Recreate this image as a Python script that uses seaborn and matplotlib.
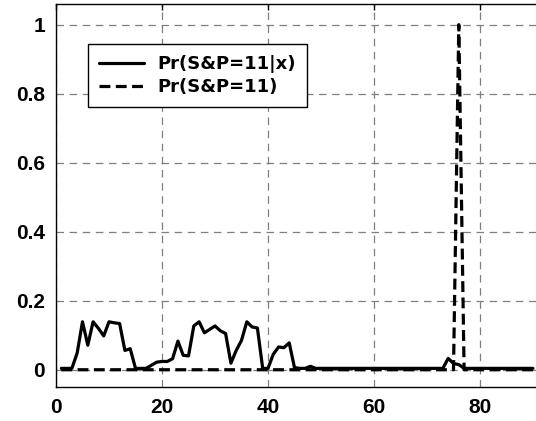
import matplotlib
matplotlib.use("Agg")
import matplotlib.pyplot as plt
from matplotlib.lines import Line2D
import seaborn as sns
import pandas as pd

x_vals = list(range(1, 91))

cond_vals = [0.004, 0.004, 0.004, 0.049, 0.139, 0.071, 0.139, 0.12, 0.098, 0.139,
             0.136, 0.134, 0.056, 0.061, 0.004, 0.004, 0.004, 0.013, 0.022, 0.024,
             0.024, 0.032, 0.083, 0.042, 0.040, 0.127, 0.139, 0.107, 0.117, 0.127,
             0.113, 0.105, 0.019, 0.056, 0.085, 0.139, 0.124, 0.121, 0.004, 0.004,
             0.045, 0.066, 0.064, 0.078, 0.006, 0.004, 0.004, 0.010, 0.004, 0.004,
             0.004, 0.004, 0.004, 0.004, 0.004, 0.004, 0.004, 0.004, 0.004, 0.004,
             0.004, 0.004, 0.004, 0.004, 0.004, 0.004, 0.004, 0.004, 0.004, 0.004,
             0.004, 0.004, 0.004, 0.033, 0.018, 0.015, 0.004, 0.004, 0.004, 0.004,
             0.004, 0.004, 0.004, 0.004, 0.004, 0.004, 0.004, 0.004, 0.004, 0.004]

prior_vals = [0.0] * 75 + [1.0] + [0.0] * 14

labels = ["Pr(S&P=11|x)", "Pr(S&P=11)"]
x_ticks = [0, 20, 40, 60, 80]
y_ticks = [0, 0.2, 0.4, 0.6, 0.8, 1]
y_tick_labels = ["0", "0.2", "0.4", "0.6", "0.8", "1"]

df = pd.DataFrame({
    "x": x_vals * 2,
    "y": cond_vals + prior_vals,
    "series": [labels[0]] * len(x_vals) + [labels[1]] * len(x_vals),
})

sns.set_style("white")
plt.rcParams["font.family"] = ["Liberation Sans", "DejaVu Sans"]
plt.rcParams["text.color"] = "black"
plt.rcParams["xtick.color"] = "black"
plt.rcParams["ytick.color"] = "black"

DASH = (3.4, 1.7)
LW = 2.3

fig = plt.figure(figsize=(5.36, 4.21), dpi=100)
ax = fig.add_axes([56 / 536, 34 / 421, 530 / 536, 383 / 421])

sns.lineplot(data=df, x="x", y="y", style="series", color="black",
             dashes={labels[0]: "", labels[1]: DASH}, linewidth=LW,
             ax=ax, legend=False)

ax.set_xlim(0, 100)
ax.set_ylim(-0.05, 1.06)
ax.set_xticks(x_ticks)
ax.set_xticklabels([str(t) for t in x_ticks], fontsize=15, fontweight="bold",
                   color="black")
ax.set_yticks(y_ticks)
ax.set_yticklabels(y_tick_labels, fontsize=15, fontweight="bold", color="black")
ax.set_xlabel("")
ax.set_ylabel("")
ax.grid(True, color="#7f7f7f", linestyle=(0, (6, 4.5)), linewidth=0.9)
ax.tick_params(direction="in", length=4.5, width=1, color="black",
               labelcolor="black", top=True, right=True, pad=8)
for s in ax.spines.values():
    s.set_color("black")
    s.set_linewidth(1.0)

handles = [Line2D([0], [0], color="black", lw=LW),
           Line2D([0], [0], color="black", lw=LW, dashes=DASH)]
leg = ax.legend(handles, labels, loc="upper left",
                bbox_to_anchor=(32 / 530, 1 - 40 / 383),
                prop={"family": "DejaVu Sans", "weight": "bold", "size": 13},
                frameon=True, fancybox=False, framealpha=1,
                edgecolor="black", handlelength=2.5, borderpad=0.6,
                labelspacing=0.3, handletextpad=0.75, borderaxespad=0)
leg.get_frame().set_linewidth(1.0)
for t in leg.get_texts():
    t.set_color("black")

fig.savefig("out.png", dpi=100)
